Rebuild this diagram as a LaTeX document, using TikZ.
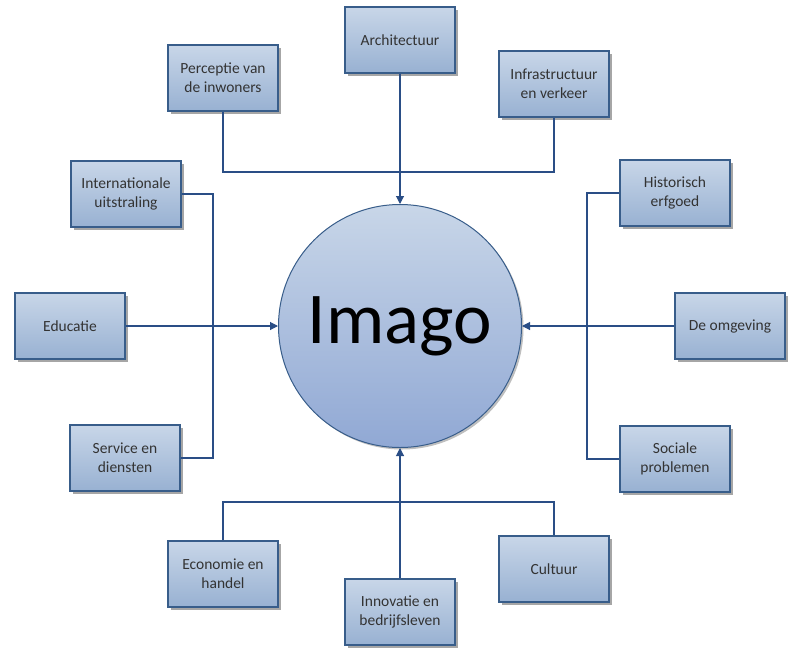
\documentclass[tikz,border=0pt]{standalone}
\usepackage{fontspec}
\setmainfont{Carlito}
\usetikzlibrary{arrows.meta,shadows}
\definecolor{boxtop}{HTML}{C8D6E8}
\definecolor{boxbot}{HTML}{98B1D2}
\definecolor{edge}{HTML}{385D8A}
\definecolor{wire}{HTML}{2A4E86}
\tikzset{
  item/.style={draw=edge, line width=1.2pt, top color=boxtop, bottom color=boxbot,
    minimum width=110pt, minimum height=66pt, align=center, inner sep=2pt,
    font=\fontsize{15.5pt}{19pt}\selectfont, text=black!80,
    drop shadow={shadow xshift=3pt, shadow yshift=-3pt, opacity=0.35, fill=black}},
  hub/.style={circle, draw=edge, line width=1pt, top color=boxtop, bottom color=boxbot!95!blue,
    minimum size=243pt, inner sep=0pt, font=\fontsize{73pt}{80pt}\selectfont,
    drop shadow={shadow xshift=2pt, shadow yshift=-2pt, opacity=0.25, fill=black}},
  wireline/.style={draw=wire, line width=1.1pt},
  feed/.style={wireline, -{Triangle[length=8pt,width=8pt]}}
}
\begin{document}
\begin{tikzpicture}[x=1pt,y=-1pt]
\useasboundingbox (0,0) rectangle (789,648);
\node[hub] (imago) at (400,326) {Imago};
\node[item] (arch) at (400,40) {Architectuur};
\node[item] (perc) at (223,78) {Perceptie van\\de inwoners};
\node[item] (infra) at (554,84) {Infrastructuur\\en verkeer};
\node[item] (intl) at (126,194) {Internationale\\uitstraling};
\node[item] (hist) at (675,193) {Historisch\\erfgoed};
\node[item] (educ) at (70,326) {Educatie};
\node[item] (omg) at (730,326) {De omgeving};
\node[item] (serv) at (125,458) {Service en\\diensten};
\node[item] (soc) at (675,459) {Sociale\\problemen};
\node[item] (econ) at (223,574) {Economie en\\handel};
\node[item] (innov) at (400,612) {Innovatie en\\bedrijfsleven};
\node[item] (cult) at (554,569) {Cultuur};
\coordinate (tj) at (400,172);
\coordinate (lj) at (213,326);
\coordinate (rj) at (587,326);
\coordinate (bj) at (400,502);
\draw[wireline] (perc.south) |- (tj) -| (infra.south);
\draw[feed] (arch.south) -- (imago.north);
\draw[wireline] (intl.east) -| (lj) |- (serv.east);
\draw[feed] (educ.east) -- (imago.west);
\draw[wireline] (hist.west) -| (rj) |- (soc.west);
\draw[feed] (omg.west) -- (imago.east);
\draw[wireline] (econ.north) |- (bj) -| (cult.north);
\draw[feed] (innov.north) -- (imago.south);
\end{tikzpicture}
\end{document}
